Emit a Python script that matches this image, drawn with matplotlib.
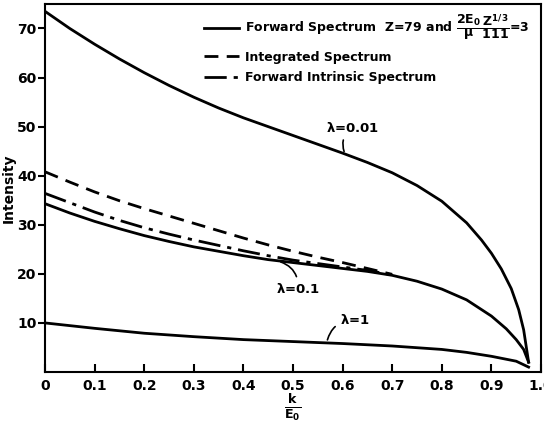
import matplotlib
matplotlib.use("Agg")
import matplotlib.pyplot as plt
from matplotlib.lines import Line2D

# values (x = k/E0)
x_001 = [0.0, 0.05, 0.10, 0.15, 0.20, 0.25, 0.30, 0.35, 0.40, 0.45, 0.50, 0.55, 0.60,
         0.65, 0.70, 0.75, 0.80, 0.85, 0.88, 0.90, 0.92, 0.94, 0.955, 0.965, 0.975]
y_001 = [73.5, 70.0, 66.8, 63.8, 61.0, 58.4, 56.0, 53.8, 51.8, 50.0, 48.2, 46.4, 44.6,
         42.7, 40.6, 38.0, 34.8, 30.4, 26.9, 24.2, 21.0, 17.0, 12.7, 8.6, 2.0]

x_01 = [0.0, 0.05, 0.10, 0.15, 0.20, 0.25, 0.30, 0.35, 0.40, 0.45, 0.50, 0.55, 0.60,
        0.65, 0.70, 0.75, 0.80, 0.85, 0.90, 0.93, 0.95, 0.965, 0.975]
y_01 = [34.3, 32.4, 30.7, 29.2, 27.8, 26.6, 25.5, 24.6, 23.7, 22.9, 22.3, 21.7, 21.1,
        20.5, 19.7, 18.5, 16.9, 14.7, 11.4, 8.8, 6.6, 4.6, 2.0]

x_intr = [0.0, 0.05, 0.10, 0.15, 0.20, 0.25, 0.30, 0.35, 0.40, 0.45, 0.50, 0.55, 0.60, 0.65, 0.70]
y_intr = [36.4, 34.5, 32.6, 30.9, 29.4, 28.1, 26.9, 25.8, 24.7, 23.7, 22.8, 22.1, 21.4, 20.7, 19.8]

x_integ = [0.0, 0.05, 0.10, 0.15, 0.20, 0.25, 0.30, 0.35, 0.40, 0.45, 0.50, 0.55, 0.60, 0.65, 0.70]
y_integ = [40.8, 38.7, 36.7, 34.9, 33.3, 31.8, 30.3, 28.8, 27.3, 25.9, 24.6, 23.4, 22.3, 21.1, 19.9]

x_1 = [0.0, 0.10, 0.20, 0.30, 0.40, 0.50, 0.60, 0.70, 0.80, 0.85, 0.90, 0.95, 0.975]
y_1 = [10.0, 8.9, 7.9, 7.2, 6.6, 6.2, 5.8, 5.3, 4.6, 4.0, 3.2, 2.2, 1.0]

xticks = [0, 0.1, 0.2, 0.3, 0.4, 0.5, 0.6, 0.7, 0.8, 0.9, 1.0]
xtick_labels = ["0", "0.1", "0.2", "0.3", "0.4", "0.5", "0.6", "0.7", "0.8", "0.9", "1.0"]
yticks = [10, 20, 30, 40, 50, 60, 70]

plt.rcParams["font.family"] = ["DejaVu Sans"]
plt.rcParams["font.weight"] = "bold"
plt.rcParams["mathtext.fontset"] = "dejavusans"
plt.rcParams["mathtext.default"] = "bf"
plt.rcParams["lines.solid_joinstyle"] = "round"
plt.rcParams["lines.dash_joinstyle"] = "round"

fig = plt.figure(figsize=(5.44, 4.25), dpi=100)
ax = fig.add_axes([0.0827, 0.1247, 0.9118, 0.866])

lw = 2.0
ax.plot(x_001, y_001, color="black", lw=lw)
ax.plot(x_01, y_01, color="black", lw=lw)
ax.plot(x_1, y_1, color="black", lw=lw)
ax.plot(x_integ, y_integ, color="black", lw=lw, dashes=(5, 3))
ax.plot(x_intr, y_intr, color="black", lw=lw, dashes=(8, 2.5, 1.5, 2.5))

ax.set_xlim(0, 1.0)
ax.set_ylim(0, 75)
ax.set_xticks(xticks)
ax.set_xticklabels(xtick_labels)
ax.set_yticks(yticks)
ax.tick_params(axis="x", direction="in", length=6, width=1.5, labelsize=10, pad=5)
ax.tick_params(axis="y", direction="out", length=5, width=1.5, labelsize=10, pad=1)
for s in ax.spines.values():
    s.set_linewidth(1.5)

ax.set_ylabel("Intensity", fontsize=10, fontweight="bold", labelpad=1)
ax.set_xlabel(r"$\frac{k}{E_0}$", fontsize=13, labelpad=0)

# curve labels with little leader strokes
leader = dict(arrowstyle="-", color="black", lw=1.2, connectionstyle="arc3,rad=0.4")
ax.annotate(r"$\lambda$=0.01", xy=(0.605, 44.4), xytext=(0.62, 49.8),
            fontsize=9.5, ha="center", va="center", arrowprops=leader)
ax.annotate(r"$\lambda$=0.1", xy=(0.47, 22.6), xytext=(0.51, 16.9),
            fontsize=9.5, ha="center", va="center", arrowprops=leader)
ax.annotate(r"$\lambda$=1", xy=(0.568, 6.0), xytext=(0.625, 10.6),
            fontsize=9.5, ha="center", va="center", arrowprops=leader)

handles = [
    Line2D([], [], color="black", lw=lw),
    Line2D([], [], color="black", lw=lw, dashes=(5, 3)),
    Line2D([], [], color="black", lw=lw, dashes=(8, 2.5, 1.5, 2.5)),
]
labels = [
    r"Forward Spectrum  $Z$=79 and $\dfrac{2E_0}{\mu}\dfrac{Z^{1/3}}{111}$=3",
    "Integrated Spectrum",
    "Forward Intrinsic Spectrum",
]
ax.legend(handles, labels, loc="upper left", bbox_to_anchor=(0.31, 0.99),
          frameon=False, fontsize=9, handlelength=2.8, handletextpad=0.5,
          labelspacing=0.6, borderaxespad=0.0)

fig.savefig("out.png", dpi=100)
